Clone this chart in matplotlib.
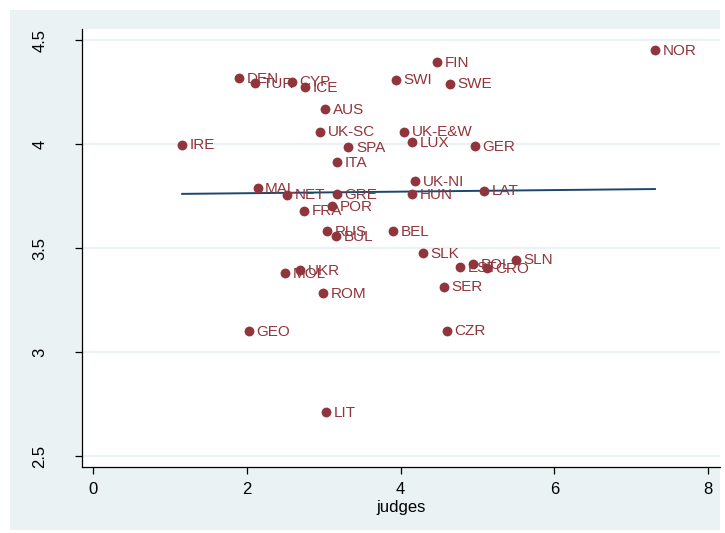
import numpy as np
import matplotlib
matplotlib.use('Agg')
from matplotlib import pyplot as plt
from matplotlib.patches import Rectangle

plt.rcParams['font.family'] = ['Liberation Sans', 'DejaVu Sans']

# countries, judges (x) and score (y)
countries = ['NOR', 'FIN', 'SWI', 'SWE', 'DEN', 'TUR', 'CYP', 'ICE', 'AUS', 'UK-SC',
             'SPA', 'ITA', 'IRE', 'UK-E&W', 'LUX', 'GER', 'UK-NI', 'HUN', 'LAT', 'MAL',
             'NET', 'GRE', 'POR', 'FRA', 'RUS', 'BUL', 'BEL', 'SLK', 'EST', 'POL',
             'CRO', 'SLN', 'SER', 'UKR', 'MOL', 'ROM', 'GEO', 'CZR', 'LIT']
judges = [7.31, 4.47, 3.94, 4.64, 1.90, 2.11, 2.59, 2.76, 3.02, 2.95,
          3.32, 3.17, 1.16, 4.05, 4.15, 4.97, 4.19, 4.15, 5.09, 2.14,
          2.52, 3.17, 3.11, 2.74, 3.04, 3.16, 3.90, 4.29, 4.78, 4.94,
          5.13, 5.50, 4.56, 2.69, 2.50, 2.99, 2.03, 4.60, 3.03]
score = [4.45, 4.394, 4.31, 4.29, 4.317, 4.293, 4.30, 4.272, 4.168, 4.06,
         3.986, 3.913, 3.997, 4.06, 4.009, 3.99, 3.82, 3.758, 3.776, 3.788,
         3.756, 3.76, 3.701, 3.68, 3.58, 3.558, 3.58, 3.476, 3.409, 3.423,
         3.404, 3.444, 3.314, 3.394, 3.38, 3.284, 3.101, 3.103, 2.712]

xticks = [0, 2, 4, 6, 8]
yticks = [2.5, 3, 3.5, 4, 4.5]

maroon = '#90353B'
navy = '#1A476F'
bg = '#EAF2F3'

fig = plt.figure(figsize=(7.25, 5.33), dpi=100, facecolor='white')
fig.patches.append(Rectangle((10 / 725, 3 / 533), 710 / 725, 520 / 533,
                             transform=fig.transFigure, facecolor=bg,
                             edgecolor='none', zorder=-10))

ax = fig.add_axes([82 / 725, 1 - 467 / 533, 638 / 725, 438 / 533])
ax.set_zorder(1)
ax.set_facecolor('white')

x = np.array(judges)
y = np.array(score)

ax.scatter(x, y, s=50, color=maroon, zorder=3, linewidths=0)
for name, xi, yi in zip(countries, x, y):
    ax.annotate(name, (xi, yi), xytext=(5.5, -0.5), textcoords='offset points',
                va='center', ha='left', color=maroon, fontsize=11, zorder=4)

slope, intercept = np.polyfit(x, y, 1)
xfit = np.array([x.min(), x.max()])
ax.plot(xfit, intercept + slope * xfit, color=navy, lw=1.4, zorder=2)

ax.set_xlim(-0.143, 8.156)
ax.set_ylim(2.447, 4.553)
ax.set_xticks(xticks)
ax.set_xticklabels([str(t) for t in xticks])
ax.set_yticks(yticks)
ax.set_yticklabels([str(t) for t in yticks], rotation=90, va='center')
ax.yaxis.grid(True, color=bg, lw=1.5)
ax.set_axisbelow(True)

for side in ['top', 'right']:
    ax.spines[side].set_visible(False)
for side in ['left', 'bottom']:
    ax.spines[side].set_color('black')
    ax.spines[side].set_linewidth(0.9)

ax.tick_params(axis='both', direction='out', length=5, width=0.9, labelsize=12)
ax.tick_params(axis='y', pad=20)
ax.tick_params(axis='x', pad=6)
ax.set_xlabel('judges', fontsize=12, labelpad=2)

fig.savefig('out.png', dpi=100, facecolor='white')
